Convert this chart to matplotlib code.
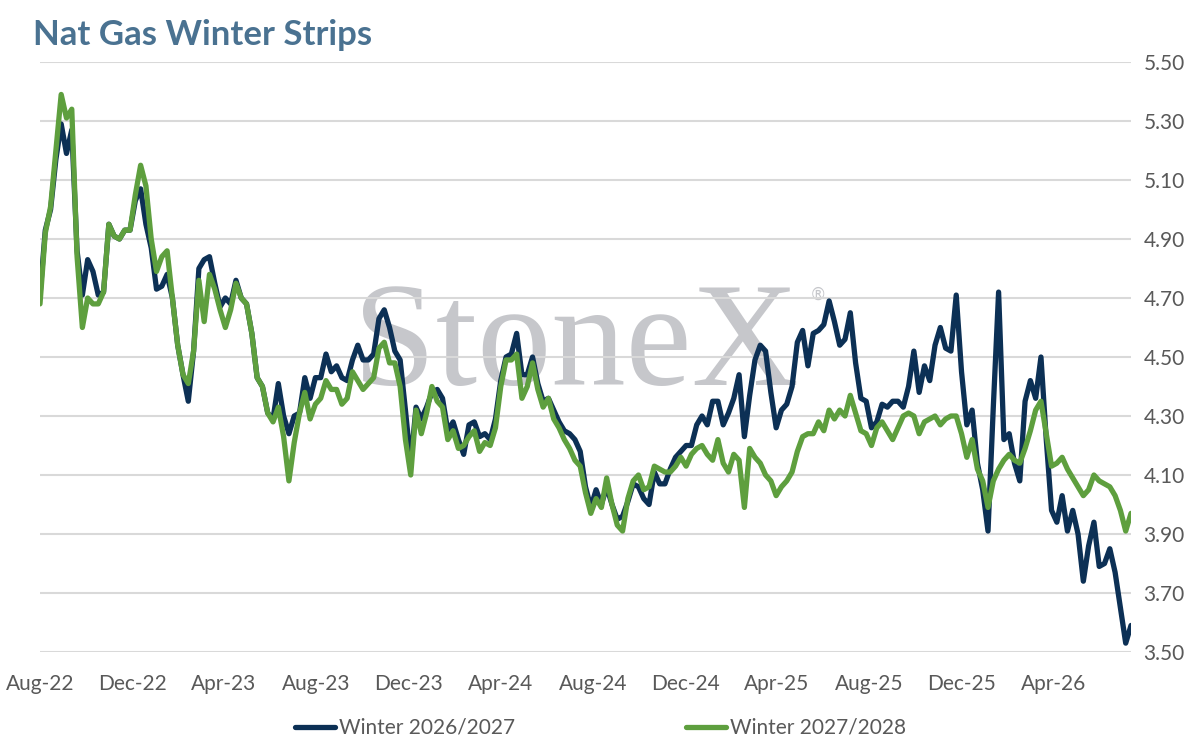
import pandas as pd
import matplotlib
matplotlib.use("Agg")
import matplotlib.pyplot as plt
import matplotlib.dates as mdates

# weekly closes, starting first week of Aug-22
start_date = "2022-08-01"

winter_26_27 = [
    4.71, 4.93, 5.00, 5.17, 5.29, 5.19, 5.27, 4.86, 4.71, 4.83,
    4.79, 4.71, 4.72, 4.95, 4.91, 4.90, 4.93, 4.93, 5.03, 5.07,
    4.95, 4.87, 4.73, 4.74, 4.78, 4.70, 4.54, 4.44, 4.35, 4.52,
    4.80, 4.83, 4.84, 4.75, 4.67, 4.70, 4.68, 4.76, 4.70, 4.68,
    4.58, 4.43, 4.40, 4.31, 4.29, 4.41, 4.30, 4.24, 4.30, 4.31,
    4.43, 4.36, 4.43, 4.43, 4.51, 4.45, 4.47, 4.43, 4.42, 4.49,
    4.54, 4.49, 4.49, 4.51, 4.63, 4.66, 4.60, 4.52, 4.49, 4.32,
    4.14, 4.33, 4.29, 4.33, 4.38, 4.39, 4.36, 4.25, 4.28, 4.22,
    4.17, 4.27, 4.28, 4.23, 4.24, 4.22, 4.29, 4.42, 4.50, 4.51,
    4.58, 4.44, 4.44, 4.50, 4.41, 4.35, 4.36, 4.32, 4.28, 4.25,
    4.24, 4.22, 4.18, 4.06, 3.99, 4.05, 4.00, 4.06, 4.00, 3.95,
    3.96, 4.01, 4.07, 4.06, 4.02, 4.00, 4.11, 4.07, 4.07, 4.12,
    4.16, 4.18, 4.20, 4.20, 4.27, 4.30, 4.27, 4.35, 4.35, 4.27,
    4.31, 4.36, 4.44, 4.23, 4.37, 4.49, 4.54, 4.52, 4.38, 4.26,
    4.32, 4.34, 4.40, 4.55, 4.59, 4.47, 4.58, 4.59, 4.61, 4.69,
    4.62, 4.54, 4.56, 4.65, 4.48, 4.36, 4.35, 4.26, 4.28, 4.34,
    4.33, 4.35, 4.35, 4.33, 4.40, 4.52, 4.38, 4.47, 4.42, 4.54,
    4.60, 4.53, 4.52, 4.71, 4.45, 4.27, 4.32, 4.14, 4.05, 3.91,
    4.33, 4.72, 4.22, 4.24, 4.14, 4.08, 4.35, 4.42, 4.36, 4.50,
    4.22, 3.98, 3.94, 4.03, 3.91, 3.98, 3.90, 3.74, 3.86, 3.94,
    3.79, 3.80, 3.85, 3.77, 3.65, 3.53, 3.59,
]

winter_27_28 = [
    4.68, 4.92, 5.01, 5.20, 5.39, 5.31, 5.34, 4.84, 4.60, 4.70,
    4.68, 4.68, 4.72, 4.95, 4.91, 4.90, 4.93, 4.93, 5.05, 5.15,
    5.08, 4.90, 4.79, 4.84, 4.86, 4.70, 4.54, 4.44, 4.41, 4.52,
    4.76, 4.62, 4.78, 4.73, 4.66, 4.60, 4.66, 4.75, 4.70, 4.68,
    4.58, 4.43, 4.40, 4.31, 4.28, 4.33, 4.23, 4.08, 4.21, 4.31,
    4.38, 4.29, 4.34, 4.36, 4.42, 4.39, 4.39, 4.34, 4.36, 4.45,
    4.42, 4.39, 4.41, 4.43, 4.53, 4.55, 4.48, 4.48, 4.40, 4.22,
    4.10, 4.32, 4.24, 4.31, 4.40, 4.35, 4.33, 4.22, 4.25, 4.19,
    4.20, 4.23, 4.25, 4.18, 4.21, 4.20, 4.26, 4.40, 4.49, 4.49,
    4.51, 4.36, 4.40, 4.48, 4.39, 4.33, 4.36, 4.29, 4.26, 4.22,
    4.19, 4.15, 4.13, 4.04, 3.97, 4.02, 3.99, 4.09, 4.00, 3.93,
    3.91, 4.02, 4.08, 4.10, 4.05, 4.06, 4.13, 4.12, 4.11, 4.11,
    4.13, 4.16, 4.13, 4.17, 4.19, 4.20, 4.17, 4.15, 4.22, 4.14,
    4.11, 4.17, 4.15, 3.99, 4.19, 4.16, 4.14, 4.10, 4.08, 4.03,
    4.06, 4.08, 4.11, 4.18, 4.23, 4.24, 4.24, 4.28, 4.25, 4.32,
    4.29, 4.32, 4.30, 4.37, 4.31, 4.25, 4.24, 4.20, 4.26, 4.28,
    4.25, 4.22, 4.26, 4.30, 4.31, 4.30, 4.24, 4.28, 4.29, 4.30,
    4.27, 4.29, 4.30, 4.30, 4.24, 4.16, 4.22, 4.12, 4.08, 3.99,
    4.08, 4.12, 4.15, 4.17, 4.15, 4.14, 4.19, 4.25, 4.32, 4.35,
    4.24, 4.13, 4.14, 4.16, 4.12, 4.09, 4.06, 4.03, 4.05, 4.10,
    4.08, 4.07, 4.06, 4.03, 3.98, 3.91, 3.97,
]

series_names = ["Winter 2026/2027", "Winter 2027/2028"]
y_ticks = [3.50, 3.70, 3.90, 4.10, 4.30, 4.50, 4.70, 4.90, 5.10, 5.30, 5.50]

dates = pd.date_range(start_date, periods=len(winter_26_27), freq="7D")

navy = "#0c3055"
green = "#5e9f3e"
label_color = "#595959"
font = "Lato"

fig = plt.figure(figsize=(12.01, 7.5), dpi=100)
ax = fig.add_axes([40 / 1201, 1 - 652 / 750, (1131 - 40) / 1201, (652 - 62) / 750])

# watermark behind the lines
ax.text(0.491, 0.452, "StoneX", transform=ax.transAxes, ha="center", va="baseline",
        fontsize=107, family="Liberation Serif", color="#c6c7cb", zorder=0)
ax.text(0.713, 0.605, "®", transform=ax.transAxes, ha="center", va="center",
        fontsize=12, family="DejaVu Sans", color="#c6c7cb", zorder=0)

ax.plot(dates, winter_26_27, color=navy, lw=3.8, label=series_names[0], zorder=3,
        solid_joinstyle="round", solid_capstyle="round")
ax.plot(dates, winter_27_28, color=green, lw=3.8, label=series_names[1], zorder=4,
        solid_joinstyle="round", solid_capstyle="round")

ax.set_ylim(3.50, 5.50)
ax.set_yticks(y_ticks)
ax.set_yticklabels([f"{v:.2f}" for v in y_ticks])
ax.yaxis.tick_right()
ax.set_xlim(dates[0], dates[-1])
ax.xaxis.set_major_locator(mdates.MonthLocator(bymonth=[4, 8, 12]))
ax.xaxis.set_major_formatter(mdates.DateFormatter("%b-%y"))

ax.grid(axis="y", color="#d9d9d9", lw=1.5, zorder=1)
ax.grid(axis="x", visible=False)
for s in ax.spines.values():
    s.set_visible(False)
ax.tick_params(axis="both", length=0, labelsize=15, labelcolor=label_color)
ax.tick_params(axis="y", pad=9)
ax.tick_params(axis="x", pad=16)
for lbl in ax.get_xticklabels() + ax.get_yticklabels():
    lbl.set_family(font)

fig.text(33 / 1201, 1 - 45 / 750, "Nat Gas Winter Strips", ha="left", va="baseline",
         fontsize=25, fontweight="bold", family=font, color="#4a7291")

fig.legend(loc="center", bbox_to_anchor=(0.5, 1 - 728 / 750), ncol=2, frameon=False,
           prop={"family": font, "size": 15}, labelcolor=label_color,
           handlelength=1.9, handletextpad=0.2, columnspacing=8.2)

fig.savefig("out.png", dpi=100)
